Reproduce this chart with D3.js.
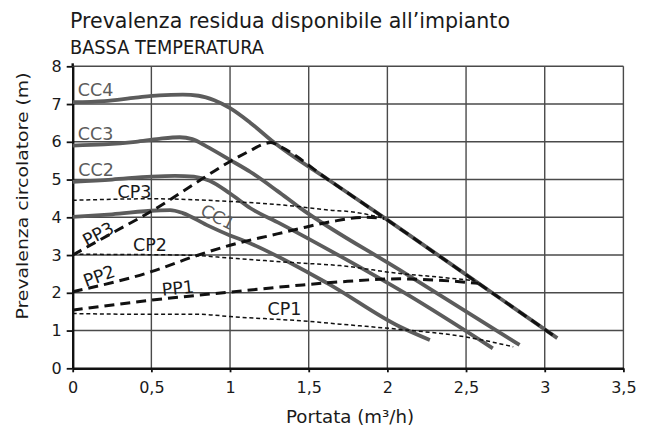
<!DOCTYPE html>
<html>
<head>
<meta charset="utf-8">
<script src="https://cdn.jsdelivr.net/npm/d3@7"></script>
<style>
  html, body { margin: 0; padding: 0; background: #fff; }
  svg { display: block; font-family: "DejaVu Sans", sans-serif; }
</style>
</head>
<body>
<svg id="chart" width="654" height="432"></svg>
<script>
// ---- data ----
const xTicks = [0, 0.5, 1, 1.5, 2, 2.5, 3, 3.5];
const xTickLabels = ["0", "0,5", "1", "1,5", "2", "2,5", "3", "3,5"];
const yTicks = [0, 1, 2, 3, 4, 5, 6, 7, 8];

// circulator curves (solid grey)
const cc4X = [0, 0.2, 0.4, 0.55, 0.7, 0.8, 0.9, 1.0, 1.13, 1.28, 1.63, 2.0, 2.5, 3.08];
const cc4Y = [7.05, 7.08, 7.17, 7.23, 7.25, 7.22, 7.1, 6.89, 6.5, 5.98, 4.98, 3.93, 2.48, 0.8];
const cc3X = [0, 0.2, 0.4, 0.55, 0.68, 0.76, 0.85, 1.0, 1.13, 1.3, 1.445, 2.08, 2.84];
const cc3Y = [5.9, 5.93, 6.0, 6.08, 6.12, 6.07, 5.88, 5.52, 5.2, 4.7, 4.25, 2.6, 0.62];
const cc2X = [0, 0.25, 0.5, 0.65, 0.77, 0.87, 1.0, 1.13, 1.316, 1.7, 2.12, 2.67];
const cc2Y = [4.94, 5.0, 5.08, 5.1, 5.08, 4.97, 4.63, 4.24, 3.84, 2.97, 1.97, 0.53];
const cc1X = [0, 0.25, 0.53, 0.62, 0.7, 0.85, 1.0, 1.1, 1.62, 2.08, 2.27];
const cc1Y = [4.01, 4.08, 4.18, 4.19, 4.11, 3.8, 3.52, 3.36, 2.25, 1.1, 0.75];

// proportional pressure (heavy dashed)
const pp3X = [0, 0.28, 0.5, 0.75, 1.0, 1.13, 1.2, 1.26, 1.32, 1.63, 2.0, 2.5, 3.08];
const pp3Y = [3.0, 3.65, 4.16, 4.82, 5.48, 5.77, 5.92, 5.98, 5.87, 4.98, 3.93, 2.48, 0.8];
const pp2X = [0, 0.5, 0.77, 1.0, 1.3, 1.44, 1.65, 1.86, 1.98];
const pp2Y = [2.03, 2.56, 2.96, 3.26, 3.56, 3.7, 3.89, 4.0, 3.97];
const pp1X = [0, 0.49, 1.0, 1.44, 1.7, 2.08, 2.3, 2.58];
const pp1Y = [1.54, 1.8, 2.02, 2.2, 2.29, 2.37, 2.34, 2.25];

// constant pressure (thin dashed)
const cp3X = [0, 0.5, 1.0, 1.4, 1.63, 1.76, 1.88, 1.98];
const cp3Y = [4.45, 4.49, 4.42, 4.3, 4.19, 4.15, 4.07, 3.97];
const cp2X = [0, 0.5, 0.77, 1.0, 1.44, 1.7, 2.08, 2.29, 2.56];
const cp2Y = [3.02, 3.01, 2.99, 2.92, 2.79, 2.72, 2.51, 2.43, 2.32];
const cp1X = [0, 0.49, 0.81, 1.0, 1.51, 1.7, 2.08, 2.5, 2.8];
const cp1Y = [1.45, 1.43, 1.43, 1.37, 1.24, 1.17, 1.03, 0.83, 0.57];

// curve labels (centre of label in data units)
const labelNames = ["CC4", "CC3", "CC2", "CP3", "CC1", "PP3", "CP2", "PP2", "PP1", "CP1"];
const labelX = [0.145, 0.145, 0.149, 0.392, 0.923, 0.161, 0.491, 0.167, 0.669, 1.346];
const labelY = [7.37, 6.22, 5.25, 4.68, 4.01, 3.56, 3.27, 2.45, 2.13, 1.57];
const labelRot = [0, 0, 0, 0, 27, -28, 0, -20, -6, 0];
const labelGrey = [true, true, true, false, true, false, false, false, false, false];

const titleLines = ["Prevalenza residua disponibile all\u2019impianto", "BASSA TEMPERATURA"];
const xTitle = "Portata (m\u00b3/h)";
const yTitle = "Prevalenza circolatore (m)";

// ---- drawing ----
const svg = d3.select("#chart");
const x = d3.scaleLinear().domain([0, 3.5]).range([72.7, 623.4]);
const y = d3.scaleLinear().domain([0, 8]).range([368.3, 66.3]);

// titles
svg.append("text").attr("x", 70).attr("y", 27.5)
  .attr("font-size", 20.5).attr("fill", "#1a1a1a")
  .attr("textLength", 440).attr("lengthAdjust", "spacingAndGlyphs").text(titleLines[0]);
svg.append("text").attr("x", 70).attr("y", 54)
  .attr("font-size", 20).attr("fill", "#1a1a1a")
  .attr("textLength", 194).attr("lengthAdjust", "spacingAndGlyphs").text(titleLines[1]);

// grid
const grid = svg.append("g").attr("stroke", "#4a4a4a").attr("stroke-width", 1.4);
grid.selectAll("line.v").data(xTicks.slice(1)).join("line")
  .attr("x1", d => x(d)).attr("x2", d => x(d))
  .attr("y1", y(0)).attr("y2", y(8));
grid.selectAll("line.h").data(yTicks.slice(1)).join("line")
  .attr("x1", x(0)).attr("x2", x(3.5))
  .attr("y1", d => y(d)).attr("y2", d => y(d));

// axes
const yAxis = d3.axisLeft(y).tickValues(yTicks).tickSize(6).tickSizeOuter(0).tickPadding(5)
  .tickFormat(d => String(d));
const xAxis = d3.axisBottom(x).tickValues(xTicks).tickSize(4).tickSizeOuter(0).tickPadding(9)
  .tickFormat((d, i) => xTickLabels[i]);

const gy = svg.append("g").attr("transform", `translate(${x(0)},0)`).call(yAxis);
const gx = svg.append("g").attr("transform", `translate(0,${y(0)})`).call(xAxis);
[gx, gy].forEach(g => {
  g.select(".domain").attr("stroke", "#111").attr("stroke-width", 2.4);
  g.selectAll(".tick line").attr("stroke", "#111").attr("stroke-width", 1.8);
  g.selectAll(".tick text").attr("font-family", "DejaVu Sans").attr("font-size", 16).attr("fill", "#1a1a1a");
});
gy.append("line").attr("x1", 0).attr("x2", 0).attr("y1", y(8)).attr("y2", y(8) - 3)
  .attr("stroke", "#111").attr("stroke-width", 2.4);

// axis titles
svg.append("text").attr("x", 350).attr("y", 423).attr("text-anchor", "middle")
  .attr("font-size", 17).attr("fill", "#1a1a1a")
  .attr("textLength", 128).attr("lengthAdjust", "spacingAndGlyphs").text(xTitle);
svg.append("text").attr("transform", "translate(28,196) rotate(-90)").attr("text-anchor", "middle")
  .attr("font-size", 16.5).attr("fill", "#1a1a1a")
  .attr("textLength", 247).attr("lengthAdjust", "spacingAndGlyphs").text(yTitle);

// curves
const line = d3.line().x(d => x(d[0])).y(d => y(d[1])).curve(d3.curveMonotoneX);
const zip = (xs, ys) => xs.map((v, i) => [v, ys[i]]);

const ccSeries = [[cc4X, cc4Y], [cc3X, cc3Y], [cc2X, cc2Y], [cc1X, cc1Y]];
svg.append("g").selectAll("path").data(ccSeries).join("path")
  .attr("d", d => line(zip(d[0], d[1])))
  .attr("fill", "none").attr("stroke", "#5c5c5c").attr("stroke-width", 3.8);

const cpSeries = [[cp3X, cp3Y], [cp2X, cp2Y], [cp1X, cp1Y]];
svg.append("g").selectAll("path").data(cpSeries).join("path")
  .attr("d", d => line(zip(d[0], d[1])))
  .attr("fill", "none").attr("stroke", "#111").attr("stroke-width", 1.5)
  .attr("stroke-dasharray", "4,2.8");

const ppSeries = [[pp3X, pp3Y], [pp2X, pp2Y], [pp1X, pp1Y]];
svg.append("g").selectAll("path").data(ppSeries).join("path")
  .attr("d", d => line(zip(d[0], d[1])))
  .attr("fill", "none").attr("stroke", "#111").attr("stroke-width", 3)
  .attr("stroke-dasharray", "10,6");

// curve labels
svg.append("g").selectAll("text").data(labelNames).join("text")
  .attr("transform", (d, i) => `translate(${x(labelX[i])},${y(labelY[i])}) rotate(${labelRot[i]})`)
  .attr("text-anchor", "middle").attr("dy", "0.36em")
  .attr("font-size", 17.5)
  .attr("fill", (d, i) => labelGrey[i] ? "#5c5c5c" : "#1a1a1a")
  .text(d => d);
</script>
</body>
</html>
